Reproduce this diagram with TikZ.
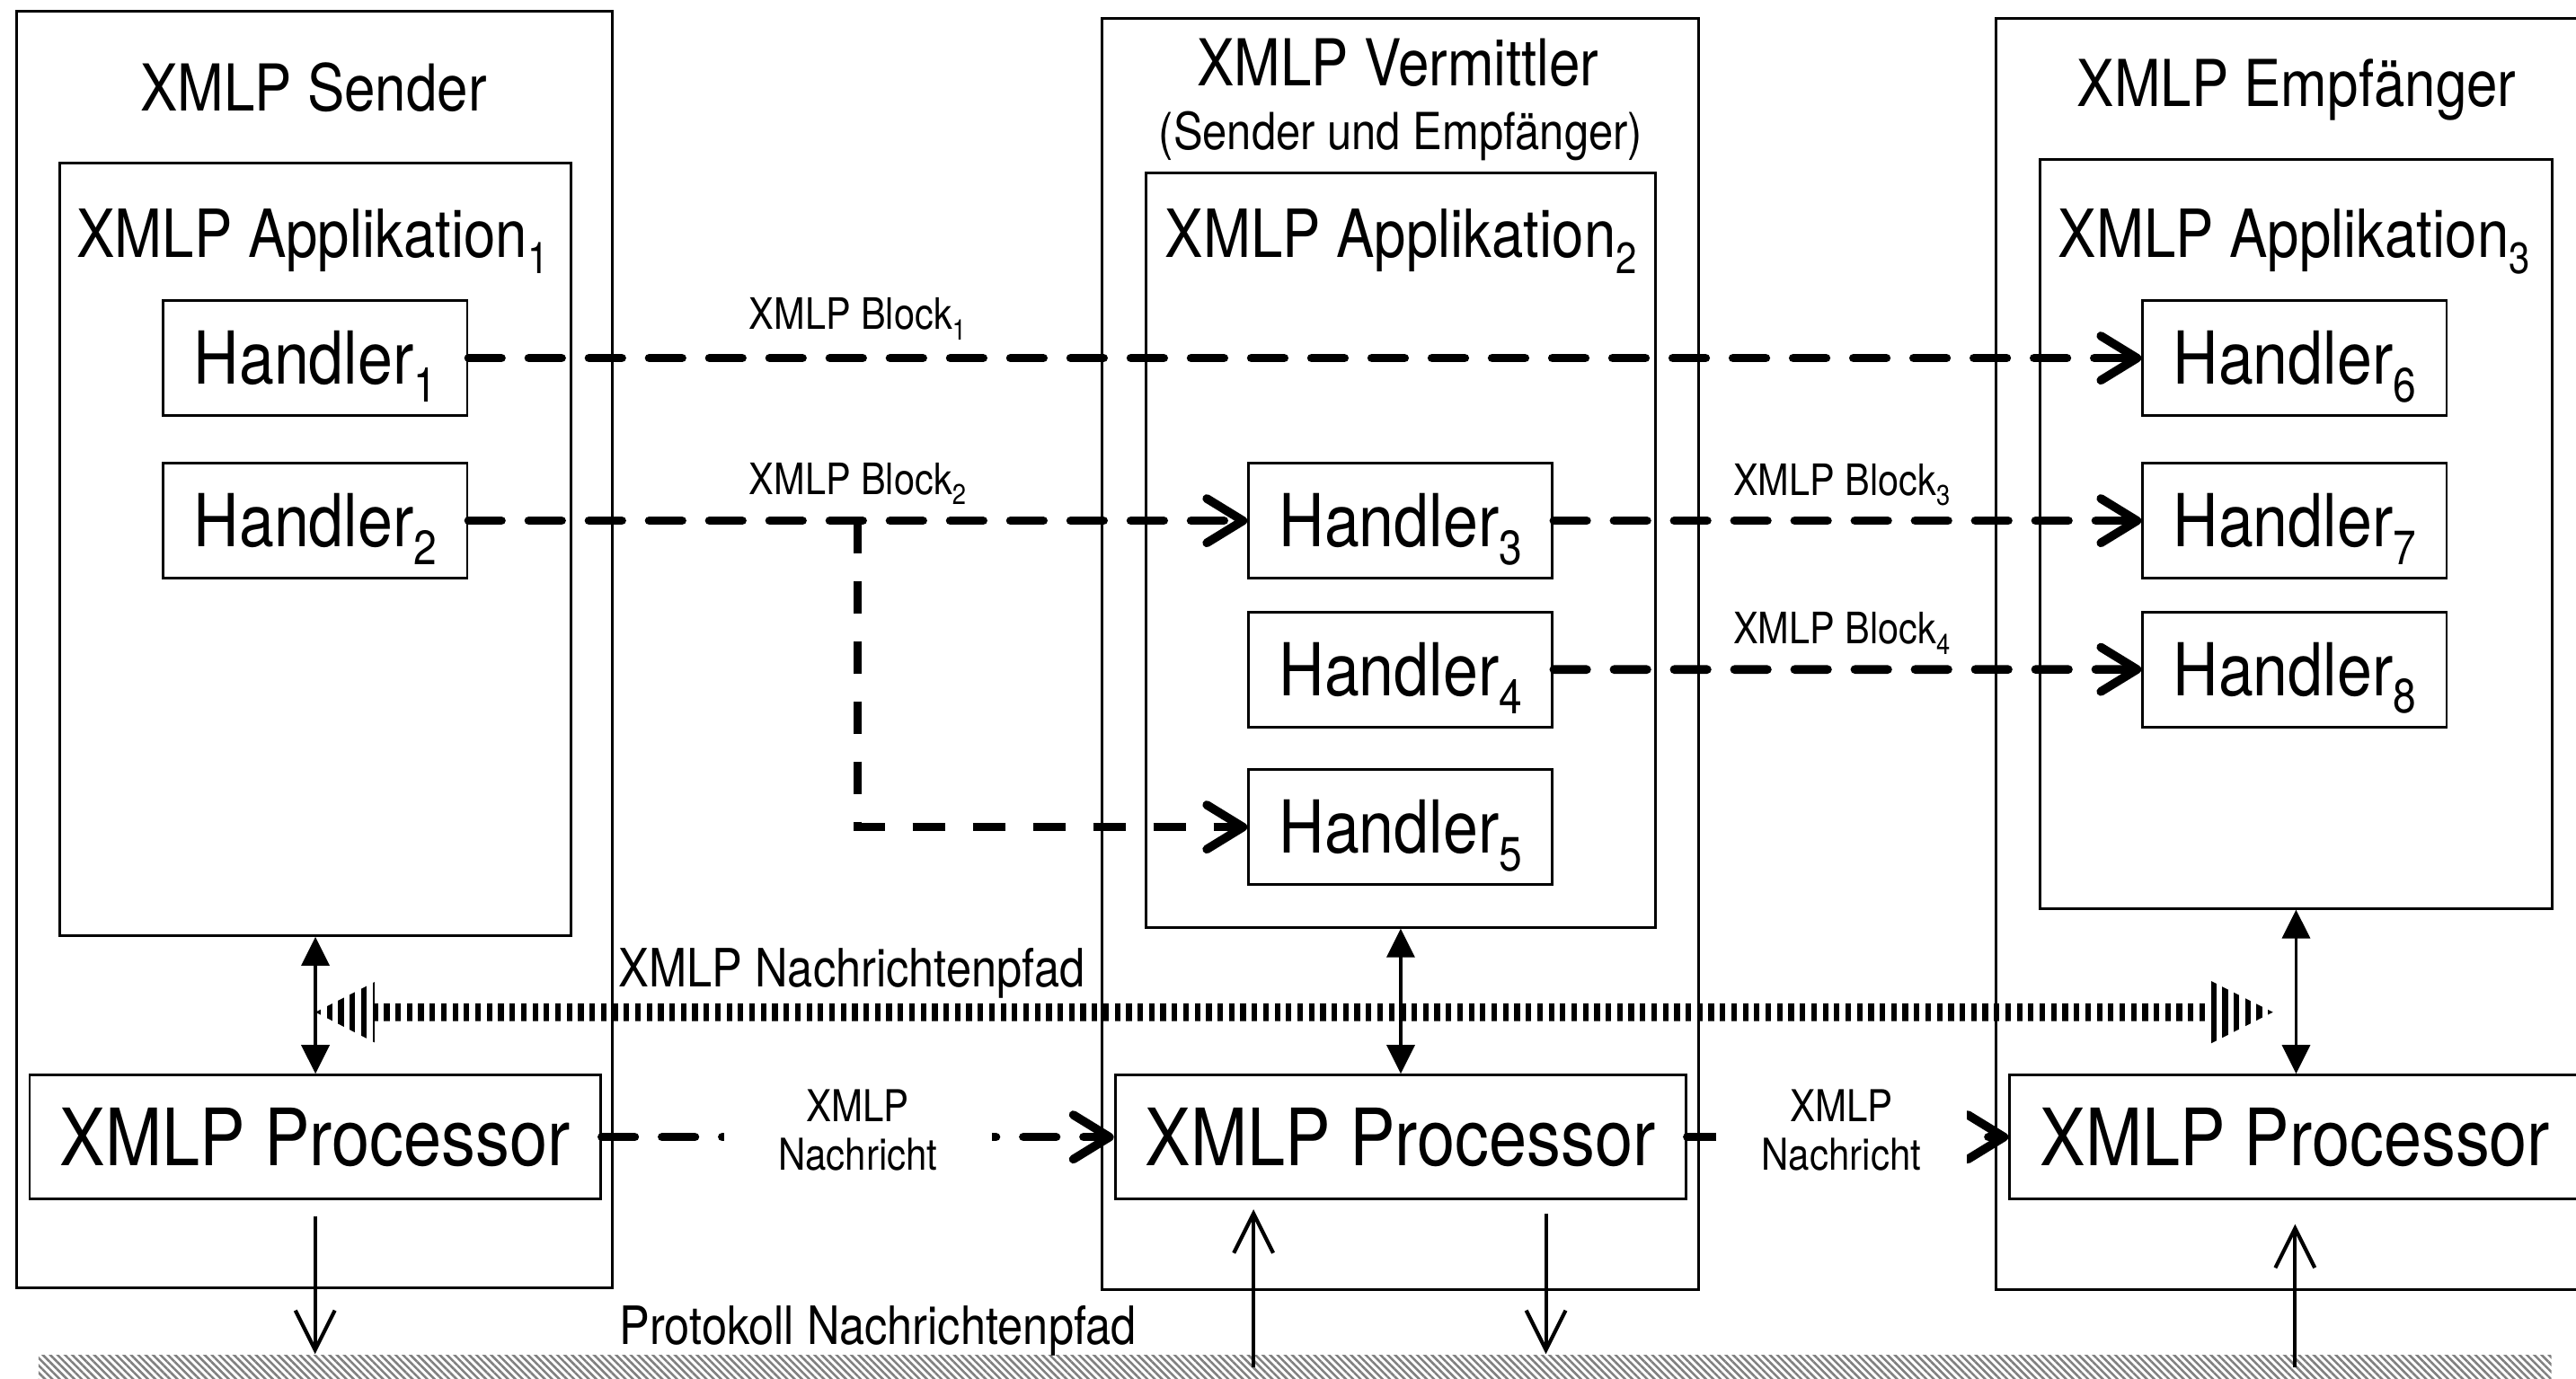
\documentclass[tikz,border=0pt]{standalone}
\usepackage{fontspec}
\usepackage{graphicx}
\setmainfont[FakeStretch=0.86]{TeX Gyre Heros}
\usetikzlibrary{arrows.meta,patterns.meta}

\newcommand{\tiefzahl}[1]{\raisebox{-0.24em}{\scalebox{0.66}{#1}}}

\tikzset{
  huelle/.style={draw, line width=0.9pt, minimum width=72.6mm, inner sep=0pt},
  appbox/.style={draw, line width=0.9pt, inner sep=0pt},
  handler/.style={draw, line width=0.9pt, minimum width=37mm, minimum height=14mm,
    inner sep=0pt, text height=18.2pt, text depth=0pt, font=\fontsize{25.3}{30}\selectfont},
  prozessor/.style={draw, line width=0.9pt, minimum width=69.5mm, minimum height=15.1mm,
    inner sep=0pt, text height=19.6pt, text depth=0pt, font=\fontsize{27.4}{32}\selectfont},
  titel/.style={anchor=base, inner sep=0pt, font=\fontsize{22.4}{26}\selectfont},
  untertitel/.style={anchor=base, inner sep=0pt, font=\fontsize{17.7}{21}\selectfont},
  apptitel/.style={anchor=base, inner sep=0pt, font=\fontsize{23}{27}\selectfont},
  blocklabel/.style={anchor=base, inner sep=0pt, font=\fontsize{15}{18}\selectfont},
  pfadlabel/.style={anchor=base west, inner sep=0pt, font=\fontsize{18.3}{22}\selectfont},
  nachricht/.style={fill=white, align=center, inner sep=0pt, yshift=0.8mm,
    font=\fontsize{15.2}{16.9}\selectfont},
  blockpfeil/.style={line width=3pt, line cap=round, dash pattern=on 4mm off 3.33mm,
    -{Straight Barb[length=4.4mm,width=5.4mm,round]}},
  doppelpfeil/.style={line width=1pt,
    {Triangle[length=3.5mm,width=3.4mm]}-{Triangle[length=3.5mm,width=3.4mm]}},
  protpfeil/.style={line width=1.3pt, -{Straight Barb[length=4.8mm,width=4.8mm]}},
  pfadstreifen/.style={line width=8mm, dash pattern=on 0.68mm off 0.71mm},
  netzbar/.style={minimum width=305.9mm, minimum height=2.9mm, inner sep=0pt,
    pattern={Lines[angle=-45,distance=1.8pt,line width=0.8pt]}, pattern color=gray}
}

\begin{document}
\begin{tikzpicture}[x=0.2mm,y=-0.2mm]
\useasboundingbox (0,0) rectangle (1568,839);
\clip (0,0) rectangle (1568,839);

% Teilnehmer
\node[huelle, minimum height=155.4mm] (sender) at (191.4,395.5) {};
\node[huelle, minimum height=154.7mm] (vermittler) at (852.5,398.2) {};
\node[huelle, minimum height=154.7mm] (empfaenger) at (1396.5,398.2) {};
\node[titel] (tsender) at (191,67.5) {XMLP Sender};
\node[titel] (tvermittler) at (851,52) {XMLP Vermittler};
\node[untertitel] (tsue) at (852.6,91.2) {(Sender und Empfänger)};
\node[titel] (tempfaenger) at (1398,64.7) {XMLP Empfänger};

% Applikationen
\node[appbox, minimum width=62.2mm, minimum height=94.1mm] (A1) at (192,334.3) {};
\node[appbox, minimum width=62.1mm, minimum height=91.8mm] (A2) at (852.6,335) {};
\node[appbox, minimum width=62.4mm, minimum height=91.2mm] (A3) at (1397.6,325) {};
\node[apptitel] (ta1) at (190.3,156.8) {XMLP Applikation\tiefzahl{1}};
\node[apptitel] (ta2) at (852.8,156.8) {XMLP Applikation\tiefzahl{2}};
\node[apptitel] (ta3) at (1396.4,156.8) {XMLP Applikation\tiefzahl{3}};

% Handler
\node[handler] (H1) at (191.9,218) {Handler\tiefzahl{1}};
\node[handler] (H2) at (191.9,317) {Handler\tiefzahl{2}};
\node[handler] (H3) at (852.5,317) {Handler\tiefzahl{3}};
\node[handler] (H4) at (852.5,407.6) {Handler\tiefzahl{4}};
\node[handler] (H5) at (852.5,503.5) {Handler\tiefzahl{5}};
\node[handler] (H6) at (1396.7,218) {Handler\tiefzahl{6}};
\node[handler] (H7) at (1396.7,317) {Handler\tiefzahl{7}};
\node[handler] (H8) at (1396.7,407.5) {Handler\tiefzahl{8}};

% Prozessoren
\node[prozessor] (P1) at (191.8,692.2) {XMLP Processor};
\node[prozessor] (P2) at (852.5,692.2) {XMLP Processor};
\node[prozessor] (P3) at (1397,692.2) {XMLP Processor};

% Bloecke
\draw[blockpfeil] (H1) -- (H6);
\draw[blockpfeil] (H2) -- (H3);
\coordinate (abzweig) at (522,317);
\draw[blockpfeil, line cap=butt] (abzweig) |- (H5);
\draw[blockpfeil] (H3) -- (H7);
\draw[blockpfeil] (H4) -- (H8);
\node[blocklabel] (lb1) at (522,200.5) {XMLP Block\tiefzahl{1}};
\node[blocklabel] (lb2) at (522,301) {XMLP Block\tiefzahl{2}};
\node[blocklabel] (lb3) at (1121,301.5) {XMLP Block\tiefzahl{3}};
\node[blocklabel] (lb4) at (1121,392) {XMLP Block\tiefzahl{4}};

% Applikation <-> Processor
\draw[doppelpfeil] (A1.south) -- (A1.south |- P1.north);
\draw[doppelpfeil] (A2.south) -- (A2.south |- P2.north);
\draw[doppelpfeil] (A3.south) -- (A3.south |- P3.north);

% XMLP Nachrichtenpfad
\coordinate (pfadL) at (192,616.2);
\coordinate (pfadR) at (1383.5,616.2);
\begin{scope}
  \clip (pfadL) -- ++(36,-18.4) -- ++(0,12.95) -- ++(1118,0) -- ++(0,-13.45)
    -- (pfadR) -- ++(-37.5,18.9) -- ++(0,-13.45) -- ++(-1118,0) -- ++(0,12.95) -- cycle;
  \draw[pfadstreifen] (pfadL) -- (pfadR);
\end{scope}
\node[pfadlabel] (lpfad) at (376.4,600.5) {XMLP Nachrichtenpfad};

% Nachrichten
\draw[blockpfeil] (P1) -- node[nachricht, minimum width=32.6mm] (n1) {XMLP\\Nachricht} (P2);
\draw[blockpfeil] (P2) -- node[nachricht, pos=0.48, minimum width=30.5mm] (n2) {XMLP\\Nachricht} (P3);

% Protokoll
\node[netzbar] (netz) at (788.25,832.25) {};
\node[pfadlabel] (lprot) at (376.8,818.6) {Protokoll Nachrichtenpfad};
\coordinate (p1aus) at ([yshift=-1.9mm]P1.south);
\coordinate (p2ein) at ([xshift=-17.9mm,yshift=-1.1mm]P2.south);
\coordinate (p2aus) at ([xshift=17.7mm,yshift=-1.6mm]P2.south);
\coordinate (p3ein) at ([yshift=-2.9mm]P3.south);
\draw[protpfeil] (p1aus) -- (p1aus |- netz.north);
\draw[protpfeil] (p2ein |- netz.center) -- (p2ein);
\draw[protpfeil] (p2aus) -- (p2aus |- netz.north);
\draw[protpfeil] (p3ein |- netz.center) -- (p3ein);
\end{tikzpicture}
\end{document}
